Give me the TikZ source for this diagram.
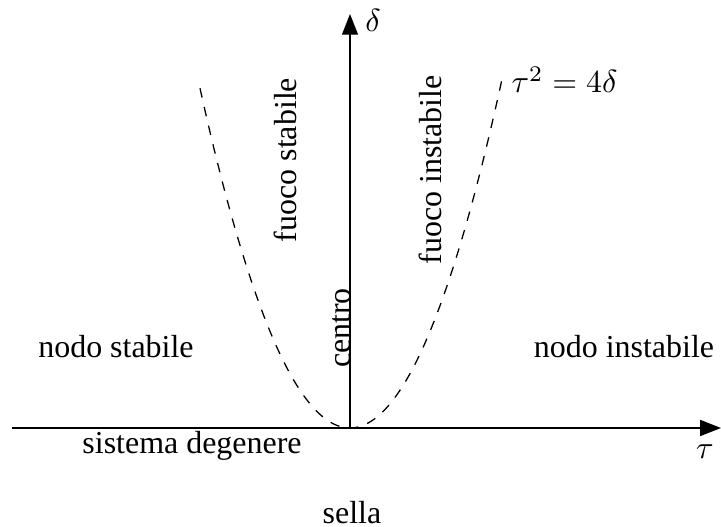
\documentclass[tikz,border=0pt]{standalone}
\usepackage{fontspec}
\setmainfont{Liberation Serif}
\usetikzlibrary{arrows.meta}

\begin{document}
\begin{tikzpicture}[x=0.011cm, y=0.011cm,
    axis/.style={-{Triangle[length=6.5pt,width=5pt]}, line width=0.45pt},
    curve/.style={dashed, line width=0.4pt},
    region/.style={font=\normalsize},
    vlabel/.style={font=\normalsize, rotate=90}]
  \useasboundingbox (-350,-99) rectangle (371,428);
  \coordinate (o) at (0,0);
  \coordinate (xs) at (-338,0);  \coordinate (xe) at (371,0);
  \coordinate (ye) at (0,414);
  \draw[axis] (xs) -- (xe);
  \draw[axis] (o) -- (ye);
  \node (tau) at (355,-24) {$\tau$};
  \node (delta) at (23,408) {$\delta$};
  % parabola tau^2 = 4 delta
  \draw[curve] plot[domain=-150:152, samples=60, smooth] (\x, {1.51*(\x/10)*(\x/10)});
  \node[anchor=west, inner sep=0pt] (eq) at (161,348) {$\tau^2 = 4\delta$};
  \node[region] (ns) at (-234,81) {nodo stabile};
  \node[region] (ni) at (274,81) {nodo instabile};
  \node[region] (sd) at (-158,-18) {sistema degenere};
  \node[region] (se) at (2,-85) {sella};
  \node[vlabel] (ce) at (-8,100) {centro};
  \node[vlabel] (fs) at (-65,268) {fuoco stabile};
  \node[vlabel] (fi) at (80,258) {fuoco instabile};
\end{tikzpicture}
\end{document}
